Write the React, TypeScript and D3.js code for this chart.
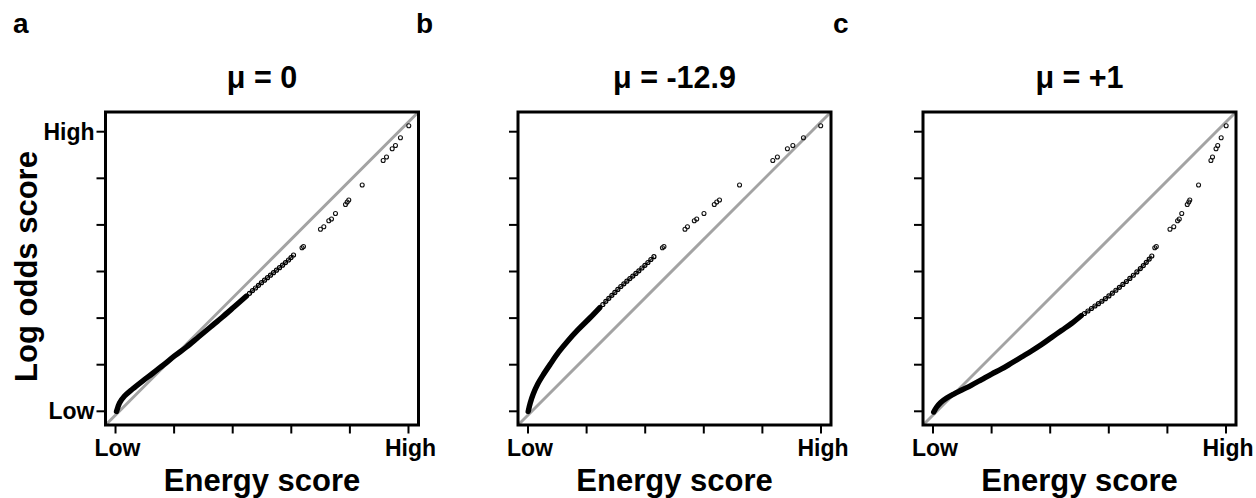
import * as d3 from 'd3';

const panelLetters = ["a", "b", "c"];
const panelTitles = ["μ = 0", "μ = -12.9", "μ = +1"];

const energyTicks = [0, 1, 2, 3, 4, 5];
const energyTickLabels = ["Low", "", "", "", "", "High"];
const logOddsTicks = [0, 1, 2, 3, 4, 5, 6];
const logOddsTickLabels = ["Low", "", "", "", "", "", "High"];

// dense part of each curve: [energy, log odds]
const denseA: [number, number][] = [
  [0.017, -0.004], [0.068, 0.178], [0.154, 0.328], [0.29, 0.479], [0.461, 0.65],
  [0.631, 0.811], [0.819, 0.994], [1.007, 1.187], [1.212, 1.38], [1.416, 1.594],
  [1.621, 1.809], [1.826, 2.024], [2.031, 2.249], [2.235, 2.474],
];
const denseB: [number, number][] = [
  [0.003, -0.004], [0.038, 0.178], [0.089, 0.371], [0.166, 0.586], [0.268, 0.8],
  [0.388, 1.026], [0.525, 1.273], [0.679, 1.509], [0.85, 1.745], [1.055, 2.002],
  [1.226, 2.227],
];
const denseC: [number, number][] = [
  [0.012, -0.015], [0.063, 0.092], [0.131, 0.189], [0.233, 0.285], [0.353, 0.371],
  [0.489, 0.457], [0.659, 0.564], [0.83, 0.682], [1.0, 0.8], [1.17, 0.908],
  [1.341, 1.036], [1.511, 1.165], [1.681, 1.294], [1.852, 1.433], [2.022, 1.584],
  [2.192, 1.734], [2.363, 1.884], [2.533, 2.056],
];

// where the points start to separate
const chainA: [number, number][] = [
  [2.287, 2.532], [2.338, 2.59], [2.389, 2.646], [2.44, 2.704], [2.491, 2.76],
  [2.543, 2.813], [2.594, 2.867], [2.645, 2.921], [2.696, 2.974], [2.747, 3.028],
  [2.799, 3.082], [2.85, 3.135], [2.901, 3.191], [2.952, 3.247], [2.995, 3.3],
  [3.038, 3.354],
];
const chainB: [number, number][] = [
  [1.277, 2.292], [1.328, 2.361], [1.379, 2.425], [1.431, 2.489], [1.482, 2.552],
  [1.533, 2.616], [1.584, 2.678], [1.636, 2.736], [1.687, 2.792], [1.738, 2.848],
  [1.789, 2.903], [1.841, 2.959], [1.892, 3.015], [1.944, 3.075], [1.995, 3.133],
  [2.046, 3.193], [2.097, 3.258], [2.149, 3.318],
];
const chainC: [number, number][] = [
  [2.584, 2.099], [2.644, 2.152], [2.704, 2.206], [2.763, 2.26], [2.823, 2.31],
  [2.882, 2.362], [2.942, 2.418], [3.002, 2.476], [3.061, 2.536], [3.121, 2.598],
  [3.181, 2.66], [3.24, 2.722], [3.3, 2.786], [3.359, 2.852], [3.419, 2.92],
  [3.479, 2.99], [3.538, 3.062], [3.589, 3.128], [3.64, 3.196], [3.69, 3.266],
  [3.734, 3.333],
];

// the sparse top points share their log odds across panels
const sparseLogOdds = [3.509, 3.536, 3.906, 3.961, 4.09, 4.127, 4.245, 4.438, 4.491, 4.534, 4.856, 5.382, 5.457, 5.633, 5.704, 5.871, 6.129];
const sparseEnergyA = [3.183, 3.208, 3.498, 3.555, 3.64, 3.686, 3.754, 3.925, 3.954, 3.981, 4.21, 4.568, 4.625, 4.722, 4.778, 4.863, 5.005];
const sparseEnergyB = [2.294, 2.32, 2.679, 2.721, 2.838, 2.879, 3.003, 3.179, 3.221, 3.268, 3.61, 4.178, 4.256, 4.427, 4.52, 4.701, 4.995];
const sparseEnergyC = [3.785, 3.811, 4.044, 4.109, 4.174, 4.203, 4.245, 4.339, 4.365, 4.382, 4.532, 4.743, 4.77, 4.83, 4.859, 4.918, 5.003];

const denses = [denseA, denseB, denseC];
const chains = [chainA, chainB, chainC];
const sparseEnergies = [sparseEnergyA, sparseEnergyB, sparseEnergyC];

const W = 1256;
const H = 498;
const panelLeft = [105.5, 518, 923];
const letterX = [13, 416, 833];
const boxSize = 313;
const boxTop = 112;
const xDomain: [number, number] = [-0.171, 5.171];
const yDomain: [number, number] = [-0.294, 6.423];
const font = "'Liberation Sans', Arial, Helvetica, sans-serif";

function Panel({ i }: { i: number }) {
  const left = panelLeft[i];
  const x = d3.scaleLinear().domain(xDomain).range([left, left + boxSize]);
  const y = d3.scaleLinear().domain(yDomain).range([boxTop + boxSize, boxTop]);
  const line = d3.line<[number, number]>()
    .x(d => x(d[0]))
    .y(d => y(d[1]))
    .curve(d3.curveCatmullRom);
  const diag: [number, number][] = [[xDomain[0], yDomain[0]], [xDomain[1], yDomain[1]]];
  const sparse = sparseEnergies[i].map((e, k) => [e, sparseLogOdds[k]] as [number, number]);
  const cx = left + boxSize / 2;
  const bottom = boxTop + boxSize;

  return (
    <g>
      <text x={cx} y={88} textAnchor="middle" fontSize={30.5} fontWeight="bold" fontFamily={font}>
        {panelTitles[i]}
      </text>
      <clipPath id={`clip${i}`}>
        <rect x={left} y={boxTop} width={boxSize} height={boxSize} />
      </clipPath>
      <path d={line(diag) ?? ""} stroke="#a3a3a3" strokeWidth={3} fill="none" clipPath={`url(#clip${i})`} />
      <path d={line(denses[i]) ?? ""} stroke="#000" strokeWidth={5.4} fill="none"
        strokeLinecap="round" strokeLinejoin="round" />
      <path d={line(chains[i]) ?? ""} stroke="#333" strokeWidth={1.6} fill="none" />
      {chains[i].map((d, k) => (
        <circle key={`c${k}`} cx={x(d[0])} cy={y(d[1])} r={2} fill="none" stroke="#000" strokeWidth={1.2} />
      ))}
      {sparse.map((d, k) => (
        <circle key={`s${k}`} cx={x(d[0])} cy={y(d[1])} r={2} fill="none" stroke="#111" strokeWidth={1.1} />
      ))}
      <rect x={left} y={boxTop} width={boxSize} height={boxSize} fill="none" stroke="#000" strokeWidth={3} />
      {logOddsTicks.map((t, k) => (
        <g key={`yt${k}`}>
          <line x1={left - 9} x2={left} y1={y(t)} y2={y(t)} stroke="#000" strokeWidth={2} />
          {i === 0 && logOddsTickLabels[k] && (
            <text x={left - 11} y={y(t) + 7.8} textAnchor="end" fontSize={23} fontWeight="bold" fontFamily={font}>
              {logOddsTickLabels[k]}
            </text>
          )}
        </g>
      ))}
      {energyTicks.map((t, k) => (
        <g key={`xt${k}`}>
          <line x1={x(t)} x2={x(t)} y1={bottom} y2={bottom + 8.5} stroke="#000" strokeWidth={2} />
          {energyTickLabels[k] && (
            <text x={x(t) + 2} y={455.5} textAnchor="middle" fontSize={23} fontWeight="bold" fontFamily={font}>
              {energyTickLabels[k]}
            </text>
          )}
        </g>
      ))}
      <text x={cx} y={491} textAnchor="middle" fontSize={31} fontWeight="bold" fontFamily={font}>
        Energy score
      </text>
      {i === 0 && (
        <text transform={`translate(37,${boxTop + boxSize / 2 - 2}) rotate(-90)`} textAnchor="middle"
          fontSize={31} fontWeight="bold" fontFamily={font}>
          Log odds score
        </text>
      )}
    </g>
  );
}

export default function App() {
  return (
    <svg width={W} height={H} style={{ position: 'absolute', left: 0, top: 0, background: '#fff' }}>
      <rect x={0} y={0} width={W} height={H} fill="#fff" />
      {panelLetters.map((l, i) => (
        <text key={l} x={letterX[i]} y={33} fontSize={28} fontWeight="bold" fontFamily={font}>{l}</text>
      ))}
      {[0, 1, 2].map(i => <Panel key={i} i={i} />)}
    </svg>
  );
}
